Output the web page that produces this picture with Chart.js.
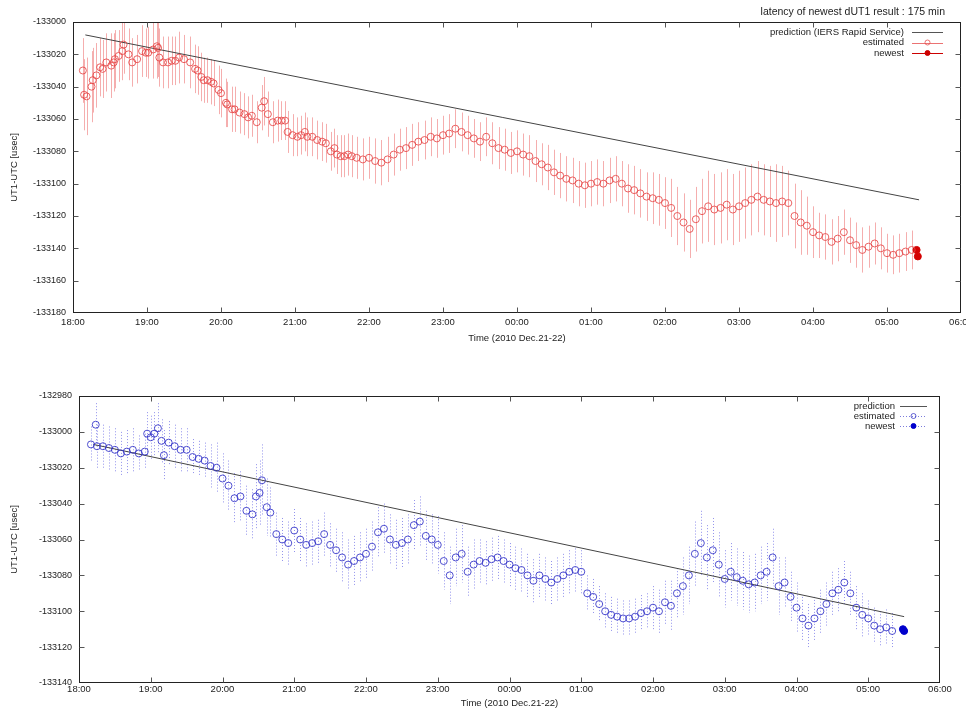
<!DOCTYPE html>
<html><head><meta charset="utf-8">
<script src="https://cdn.jsdelivr.net/npm/chart.js@4/dist/chart.umd.min.js"></script>
<style>
html,body{margin:0;padding:0;background:#fff;width:966px;height:713px;overflow:hidden}
#c1{position:absolute;left:0;top:0}
#c2{position:absolute;left:0;top:350px}
</style></head><body>
<canvas id="c1" width="966" height="350"></canvas>
<canvas id="c2" width="966" height="363"></canvas>
<script>
// ---------- data ----------
const timeTickLabels = ['18:00','19:00','20:00','21:00','22:00','23:00','00:00','01:00','02:00','03:00','04:00','05:00','06:00'];
const xAxisTitle = 'Time (2010 Dec.21-22)';
const yAxisTitle = 'UT1-UTC [usec]';
const latencyText = 'latency of newest dUT1 result : 175 min';

// top panel (minutes after 18:00)
const topMinutes = [8,9,11,15,16,19,22,24,27,31,33,34,37,40,41,45,48,52,56,59,61,65,68,69,70,73,77,80,83,86,90,95,99,101,104,106,109,112,114,118,120,124,125,129,131,135,139,142,145,149,153,155,158,162,166,169,172,174,178,182,185,188,190,194,198,202,205,209,212,214,217,220,223,226,230,
235,240,245,250,255,260,265,270,275,280,285,290,295,300,305,310,315,320,325,330,335,340,345,350,355,360,365,370,375,380,385,390,395,400,405,410,415,420,425,430,435,440,445,450,455,460,465,470,475,480,485,490,495,500,505,510,515,520,525,530,535,540,545,550,555,560,565,570,575,580,585,590,595,600,605,610,615,620,625,630,635,640,645,650,655,660,665,670,675,680];
const topValues = [-133030,-133045,-133046,-133040,-133036,-133033,-133028,-133029,-133025,-133027,-133025,-133023,-133021,-133018,-133014,-133020,-133025,-133023,-133018,-133019,-133019,-133017,-133015,-133016,-133022,-133025,-133025,-133024,-133024,-133022,-133023,-133025,-133029,-133030,-133034,-133036,-133036,-133037,-133038,-133042,-133044,-133050,-133051,-133054,-133054,-133056,-133057,-133059,-133058,-133062,-133053,-133049,-133057,-133062,-133061,-133061,-133061,-133068,-133070,-133071,-133070,-133068,-133071,-133071,-133073,-133074,-133075,-133080,-133078,-133082,-133083,-133083,-133082,-133083,-133084,
-133085,-133084,-133086,-133087,-133085,-133082,-133079,-133078,-133076,-133074,-133073,-133071,-133072,-133070,-133069,-133066,-133068,-133070,-133072,-133074,-133071,-133075,-133078,-133079,-133081,-133080,-133082,-133083,-133086,-133088,-133090,-133093,-133095,-133097,-133098,-133100,-133101,-133100,-133099,-133100,-133098,-133097,-133100,-133103,-133104,-133106,-133108,-133109,-133110,-133112,-133115,-133120,-133124,-133128,-133122,-133117,-133114,-133116,-133115,-133113,-133116,-133114,-133112,-133110,-133108,-133110,-133111,-133112,-133111,-133112,-133120,-133124,-133126,-133130,-133132,-133133,-133136,-133134,-133130,-133135,-133138,-133141,-133139,-133137,-133140,-133143,-133144,-133143,-133142,-133141];
const topErrors = [20,22,24,22,20,20,18,18,18,20,18,18,16,18,18,16,15,15,16,15,16,18,20,18,18,16,16,15,15,16,15,16,15,15,15,14,14,14,14,15,15,15,14,14,14,13,13,13,13,13,14,15,14,13,13,12,12,13,13,12,12,12,12,12,12,12,12,12,12,12,13,13,13,13,13,
13,13,14,14,14,13,13,13,13,12,12,12,12,12,12,12,12,12,12,12,12,13,13,13,13,13,13,13,13,13,14,14,14,14,14,14,14,14,14,14,14,14,14,15,15,15,15,16,16,16,18,18,18,18,20,20,22,22,22,22,22,22,22,22,22,22,22,24,22,20,20,20,18,16,14,14,14,14,14,14,14,14,13,13,13,12,12,12,12,12];
const topNewestMinutes = [684,685];
const topNewestValues = [-133141,-133145];
const topPredMinutes = [10,686];
const topPredValues = [-133008,-133110];

// bottom panel
const botMinutes = [10,14,15,20,25,30,35,40,45,50,55,57,60,63,66,69,71,75,80,85,90,95,100,105,110,115,120,125,130,135,140,145,148,151,153,157,160,165,170,175,180,185,190,195,200,205,210,215,220,225,230,235,240,245,250,255,260,265,270,275,280,285,290,295,300,305,310,315,320,325,330,335,340,345,350,355,360,365,370,375,380,385,390,395,400,405,410,415,420,425,430,435,440,445,450,455,460,465,470,475,480,485,490,495,500,505,510,515,520,525,530,535,540,545,550,555,560,565,570,575,580,585,590,595,600,605,610,615,620,625,630,635,640,645,650,655,660,665,670,675,680];
const botValues = [-133007,-132996,-133008,-133008,-133009,-133010,-133012,-133011,-133010,-133012,-133011,-133001,-133003,-133001,-132998,-133005,-133013,-133006,-133008,-133010,-133010,-133014,-133015,-133016,-133019,-133020,-133026,-133030,-133037,-133036,-133044,-133046,-133036,-133034,-133027,-133042,-133045,-133057,-133060,-133062,-133055,-133060,-133063,-133062,-133061,-133057,-133063,-133066,-133070,-133074,-133072,-133070,-133068,-133064,-133056,-133054,-133060,-133063,-133062,-133060,-133052,-133050,-133058,-133060,-133063,-133072,-133080,-133070,-133068,-133078,-133074,-133072,-133073,-133071,-133070,-133072,-133074,-133076,-133077,-133080,-133083,-133080,-133082,-133084,-133082,-133080,-133078,-133077,-133078,-133090,-133092,-133096,-133100,-133102,-133103,-133104,-133104,-133103,-133101,-133100,-133098,-133100,-133095,-133097,-133090,-133086,-133080,-133068,-133062,-133070,-133066,-133074,-133082,-133078,-133081,-133083,-133085,-133084,-133080,-133078,-133070,-133086,-133084,-133092,-133098,-133104,-133108,-133104,-133100,-133096,-133090,-133088,-133084,-133090,-133098,-133102,-133104,-133108,-133110,-133109,-133111];
const botErrors = [10,12,12,12,12,12,12,12,12,10,10,12,12,12,14,12,14,12,12,12,12,10,10,10,12,14,14,14,14,14,14,14,18,18,20,16,14,12,12,12,12,12,12,12,12,12,12,12,14,14,14,14,14,14,14,14,14,14,14,14,14,14,14,14,16,16,16,16,16,14,14,12,12,12,12,12,12,12,12,12,12,12,12,12,12,12,12,12,12,10,10,10,10,10,10,10,10,10,10,10,12,12,12,14,14,16,16,18,18,18,18,18,16,16,16,16,16,16,16,16,16,16,14,14,14,12,12,12,12,12,12,12,12,12,12,12,10,10,10,10,10];
const botNewestMinutes = [689,690];
const botNewestValues = [-133110,-133111];
const botPredMinutes = [12,690];
const botPredValues = [-133007,-133103];

// ---------- helpers ----------
const FONT = "'Liberation Sans Narrow','Liberation Sans',Arial,sans-serif";
const pts = (xs, ys) => xs.map((m, i) => ({x: m, y: ys[i]}));

function errorBarPlugin(dsIndex, errs, color, dash) {
  return {
    id: 'errbars' + dsIndex,
    beforeDatasetsDraw(chart) {
      const {ctx, chartArea: a, scales: {x, y}} = chart;
      const data = chart.data.datasets[dsIndex].data;
      ctx.save();
      ctx.beginPath(); ctx.rect(a.left, a.top, a.right - a.left, a.bottom - a.top); ctx.clip();
      ctx.strokeStyle = color; ctx.lineWidth = 1;
      ctx.setLineDash(dash);
      data.forEach((p, i) => {
        const px = Math.round(x.getPixelForValue(p.x)) + 0.5;
        const e = errs[i];
        const yt = y.getPixelForValue(p.y + e), yb = y.getPixelForValue(p.y - e);
        ctx.beginPath(); ctx.moveTo(px, yt); ctx.lineTo(px, yb); ctx.stroke();
      });
      ctx.restore();
    }
  };
}

const framePlugin = {
  id: 'frame',
  afterDatasetsDraw(chart) {
    const {ctx, chartArea: a, scales: {x, y}} = chart;
    ctx.save();
    ctx.strokeStyle = '#222'; ctx.lineWidth = 1; ctx.setLineDash([]);
    const L = Math.round(a.left) + 0.5, R = Math.round(a.right) - 0.5, T = Math.round(a.top) + 0.5, B = Math.round(a.bottom) - 0.5;
    ctx.strokeRect(L, T, R - L, B - T);
    ctx.strokeStyle = '#555';
    x.ticks.forEach((t, i) => {
      if (i === 0 || i === x.ticks.length - 1) return;
      const px = Math.round(x.getPixelForValue(t.value)) + 0.5;
      ctx.beginPath(); ctx.moveTo(px, B); ctx.lineTo(px, B - 5); ctx.moveTo(px, T); ctx.lineTo(px, T + 5); ctx.stroke();
    });
    y.ticks.forEach((t, i) => {
      if (i === 0 || i === y.ticks.length - 1) return;
      const py = Math.round(y.getPixelForValue(t.value)) + 0.5;
      ctx.beginPath(); ctx.moveTo(L, py); ctx.lineTo(L + 5, py); ctx.moveTo(R, py); ctx.lineTo(R - 5, py); ctx.stroke();
    });
    ctx.restore();
  }
};

function legendPlugin(entries, textRight, sampleX0, sampleX1, y0, dy, extraText) {
  return {
    id: 'customLegend',
    afterDraw(chart) {
      const ctx = chart.ctx;
      ctx.save();
      ctx.textBaseline = 'middle';
      if (extraText) { ctx.font = '10.5px ' + FONT; ctx.fillStyle = '#222'; ctx.textAlign = 'right'; ctx.fillText(extraText.text, extraText.x, extraText.y); }
      ctx.font = '9.5px ' + FONT;
      entries.forEach((e, i) => {
        const yy = y0 + i * dy;
        ctx.textAlign = 'right';
        ctx.fillStyle = '#222';
        ctx.fillText(e.label, textRight, yy);
        ctx.strokeStyle = e.color; ctx.lineWidth = 1;
        ctx.setLineDash(e.dash || []);
        ctx.beginPath(); ctx.moveTo(sampleX0, Math.round(yy) + 0.5); ctx.lineTo(sampleX1, Math.round(yy) + 0.5); ctx.stroke();
        ctx.setLineDash([]);
        if (e.marker) {
          const cx = (sampleX0 + sampleX1) / 2;
          ctx.beginPath(); ctx.arc(cx, yy, e.marker.r, 0, Math.PI * 2);
          if (e.marker.fill) { ctx.fillStyle = e.marker.fill; ctx.fill(); }
          ctx.strokeStyle = e.marker.stroke; ctx.stroke();
        }
      });
      ctx.restore();
    }
  };
}

function buildChart(canvas, o) {
  return new Chart(canvas, {
    type: 'scatter',
    data: {
      datasets: [
        {label: 'estimated', data: pts(o.minutes, o.values), showLine: false, pointRadius: 3.5, pointBorderWidth: 1,
         pointBorderColor: o.ptColor, pointBackgroundColor: 'rgba(0,0,0,0)', pointHoverRadius: 3.5},
        {label: 'prediction', data: pts(o.predMinutes, o.predValues), showLine: true, borderColor: '#444', borderWidth: 1, pointRadius: 0, fill: false},
        {label: 'newest', data: pts(o.newMinutes, o.newValues), showLine: false, pointRadius: 3.5, pointBorderColor: o.newColor, pointBackgroundColor: o.newColor}
      ]
    },
    options: {
      responsive: false, animation: false, devicePixelRatio: 1,
      layout: {padding: {top: o.padTop, right: o.padRight, left: 0, bottom: 0}},
      plugins: {legend: {display: false}, tooltip: {enabled: false}},
      scales: {
        x: {
          type: 'linear', min: 0, max: 720,
          grid: {display: false, drawTicks: false}, border: {display: false},
          ticks: {stepSize: 60, autoSkip: false, maxRotation: 0, padding: o.xTickPad, color: '#222',
                  font: {family: FONT, size: 9.5}, callback: v => timeTickLabels[Math.round(v / 60)]},
          title: {display: true, text: xAxisTitle, color: '#222', font: {family: FONT, size: 9.5}, padding: {top: 2, bottom: o.xTitlePadBottom}},
          afterFit: s => { s.height = o.xHeight; s.paddingLeft = 0; s.paddingRight = 0; }
        },
        y: {
          min: o.yMin, max: o.yMax,
          grid: {display: false, drawTicks: false}, border: {display: false},
          ticks: {stepSize: 20, padding: 7, color: '#222', font: {family: FONT, size: 9}, callback: v => String(v)},
          title: {display: true, text: yAxisTitle, color: '#222', font: {family: FONT, size: 9.5}, padding: {top: 9, bottom: 0}},
          afterFit: s => { s.width = o.yWidth; s.paddingTop = 0; s.paddingBottom = 0; }
        }
      }
    },
    plugins: [errorBarPlugin(0, o.errors, o.errColor, o.errDash), framePlugin, o.legend]
  });
}

buildChart(document.getElementById('c1'), {
  minutes: topMinutes, values: topValues, errors: topErrors,
  predMinutes: topPredMinutes, predValues: topPredValues,
  newMinutes: topNewestMinutes, newValues: topNewestValues,
  ptColor: 'rgba(230,70,70,0.85)', newColor: '#d40000',
  errColor: 'rgba(238,120,120,0.6)', errDash: [],
  yMin: -133180, yMax: -133000, padTop: 22, padRight: 3, yWidth: 73, xHeight: 37, xTickPad: 4, xTitlePadBottom: 6,
  legend: legendPlugin([
    {label: 'prediction (IERS Rapid Service)', color: '#555'},
    {label: 'estimated', color: 'rgba(230,80,80,0.8)', marker: {r: 2.5, stroke: 'rgba(230,80,80,0.8)'}},
    {label: 'newest', color: '#cc0000', marker: {r: 2.5, stroke: '#cc0000', fill: '#cc0000'}}
  ], 904, 912, 943, 32, 10.5, {text: latencyText, x: 945, y: 12})
});

buildChart(document.getElementById('c2'), {
  minutes: botMinutes, values: botValues, errors: botErrors,
  predMinutes: botPredMinutes, predValues: botPredValues,
  newMinutes: botNewestMinutes, newValues: botNewestValues,
  ptColor: 'rgba(50,50,200,0.85)', newColor: '#0000cc',
  errColor: 'rgba(110,110,230,0.75)', errDash: [1, 2],
  yMin: -133140, yMax: -132980, padTop: 46, padRight: 26, yWidth: 79, xHeight: 30, xTickPad: 1, xTitlePadBottom: 4,
  legend: legendPlugin([
    {label: 'prediction', color: '#555'},
    {label: 'estimated', color: 'rgba(90,90,210,0.8)', dash: [1, 2], marker: {r: 2.5, stroke: 'rgba(60,60,200,0.8)'}},
    {label: 'newest', color: 'rgba(90,90,210,0.8)', dash: [1, 2], marker: {r: 2.5, stroke: '#0000cc', fill: '#0000cc'}}
  ], 895, 900, 927, 56, 10, null)
});
</script>
</body></html>
